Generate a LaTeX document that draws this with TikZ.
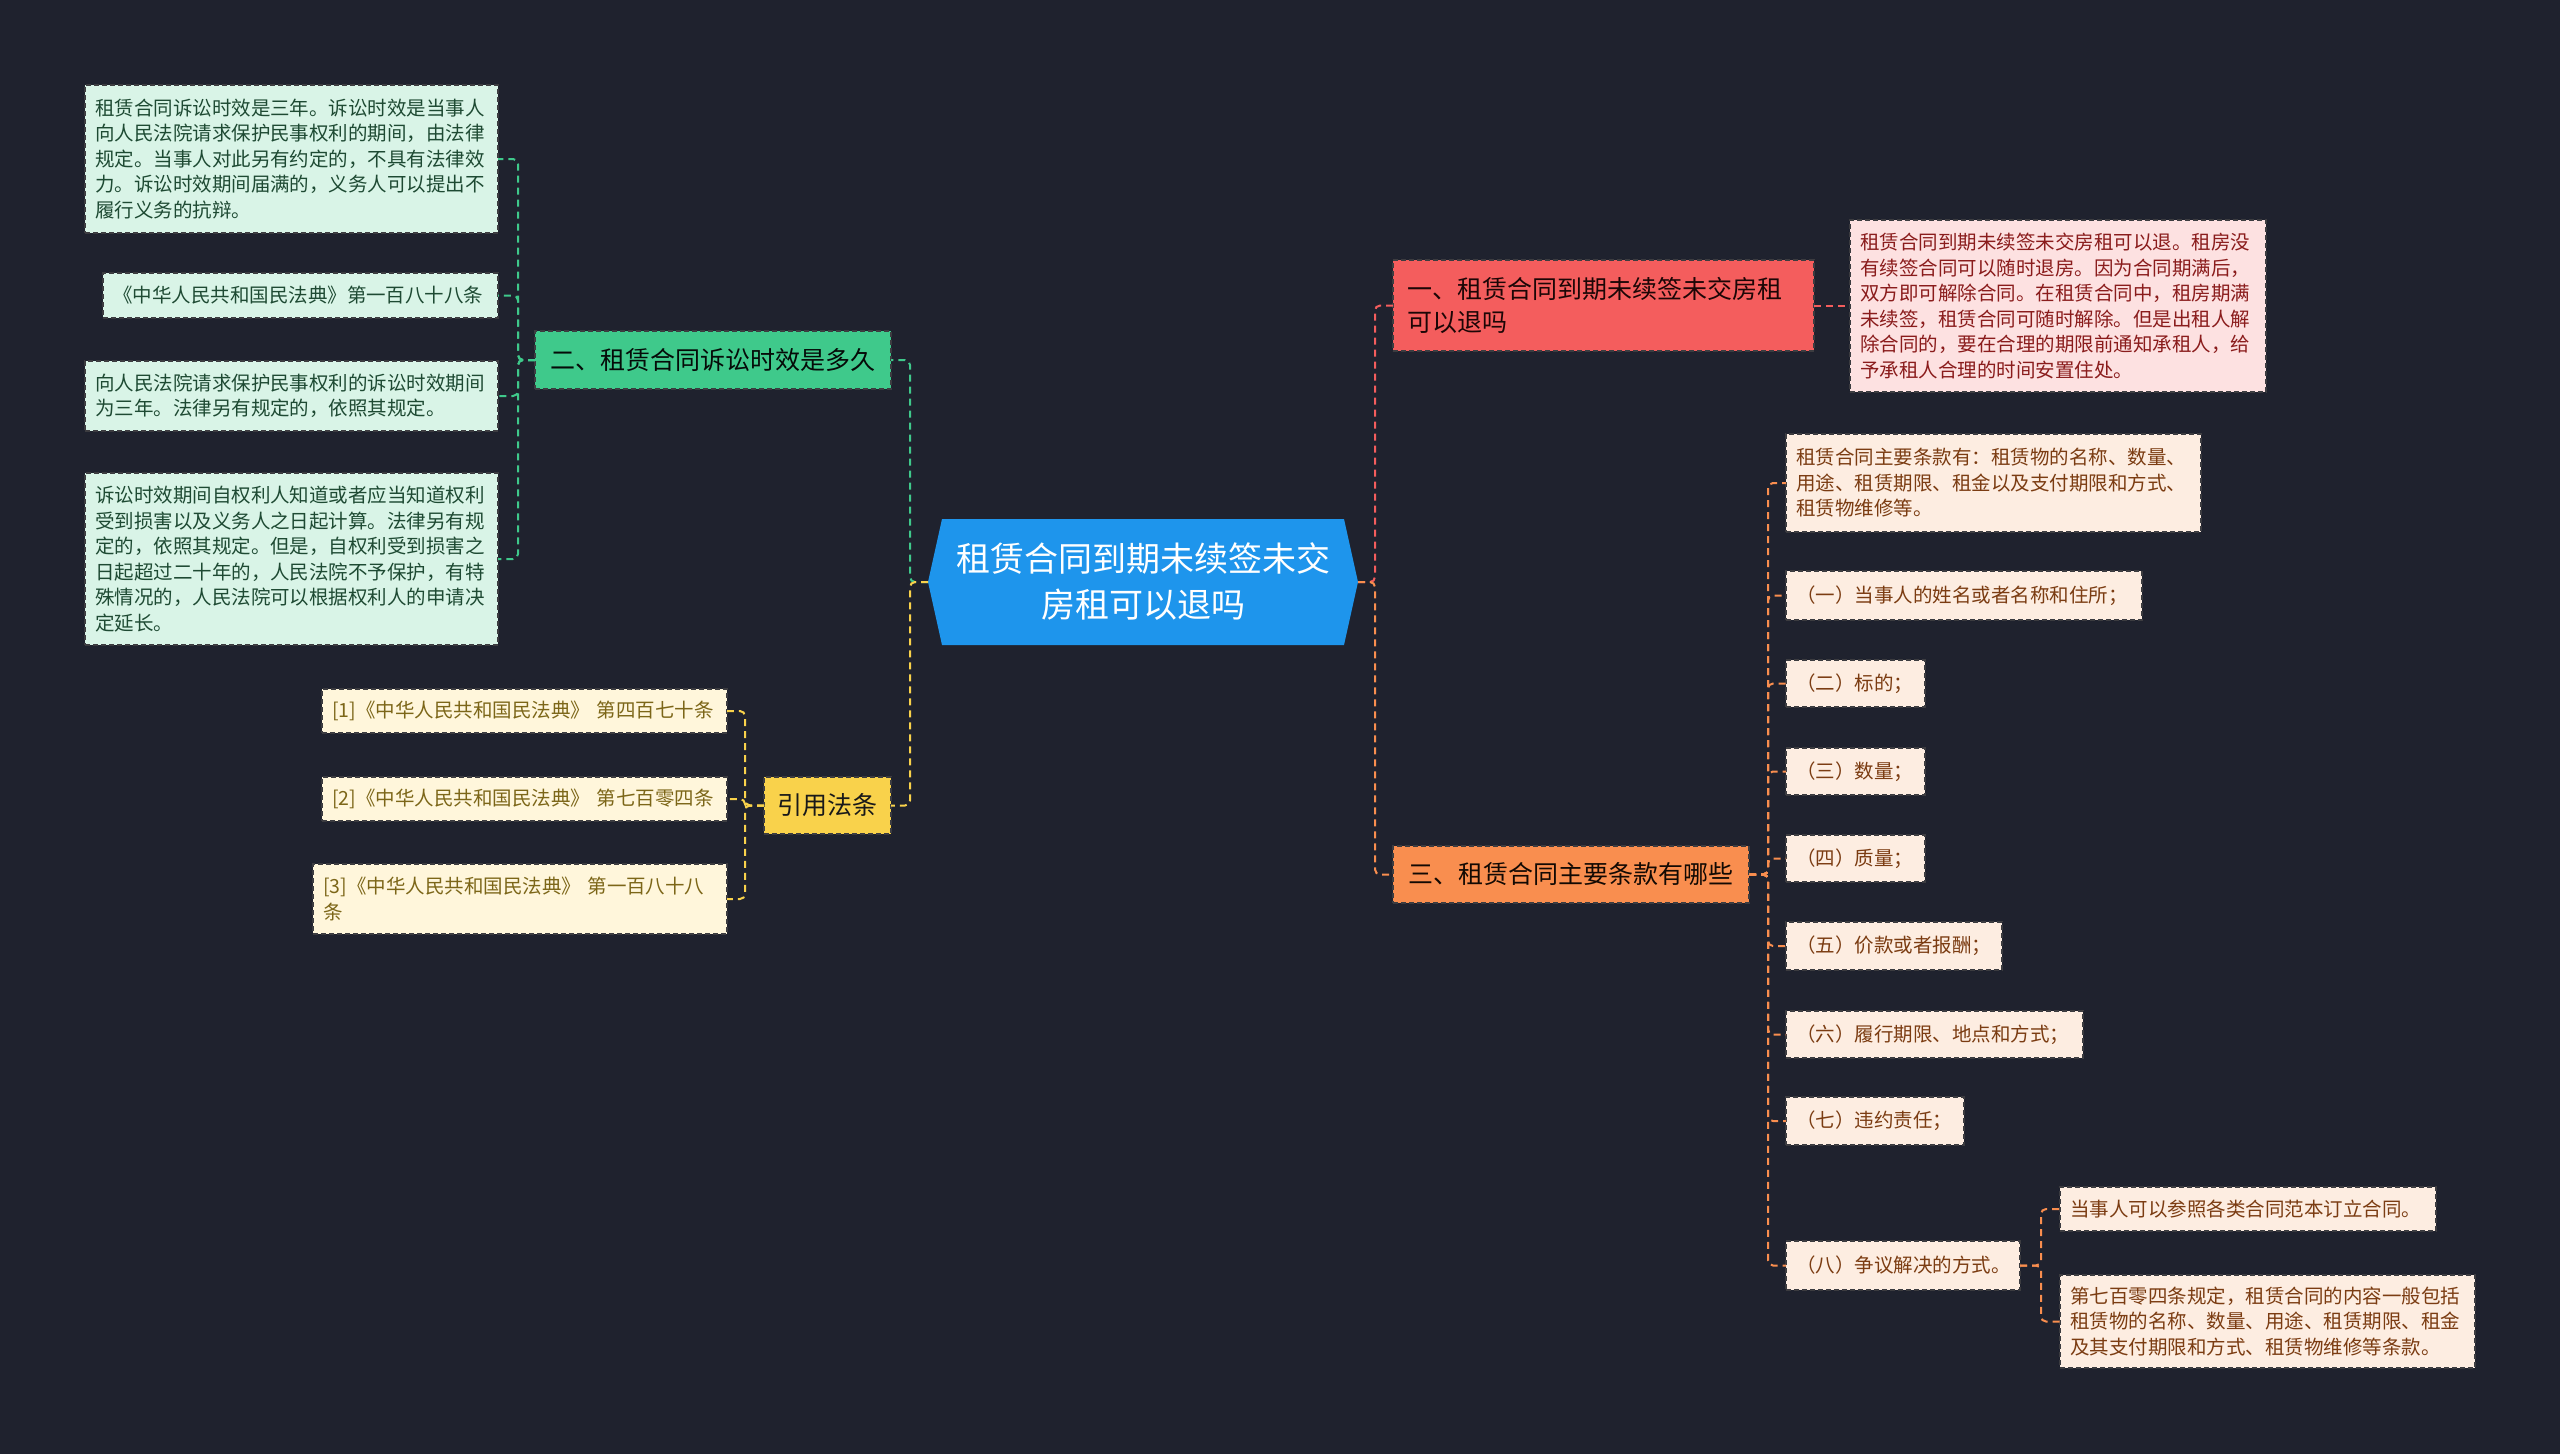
\documentclass[tikz,border=0pt]{standalone}
\usepackage{fontspec}
\newfontfamily\cjk{Noto Sans CJK SC}
\usetikzlibrary{calc,backgrounds}
\definecolor{cBg}{HTML}{1F222E}
\definecolor{cBlue}{HTML}{1E95EC}
\definecolor{cGreen}{HTML}{3FC98B}
\definecolor{cGleaf}{HTML}{D9F4E7}
\definecolor{cGtext}{HTML}{1E4A33}
\definecolor{cYellow}{HTML}{F9D24B}
\definecolor{cYleaf}{HTML}{FFF6DB}
\definecolor{cYtext}{HTML}{7C6618}
\definecolor{cRed}{HTML}{F45D5D}
\definecolor{cRleaf}{HTML}{FDE1E1}
\definecolor{cRtext}{HTML}{8A1C1C}
\definecolor{cOrange}{HTML}{F98E4F}
\definecolor{cOleaf}{HTML}{FDEDE1}
\definecolor{cOtext}{HTML}{7B3C12}
\definecolor{cLine}{HTML}{3C3C40}
\begin{document}
\begin{tikzpicture}[x=1pt,y=-1pt,
  box/.style={anchor=north west, inner xsep=10pt, inner ysep=0pt, outer sep=0pt,
    font=\cjk\fontsize{19.5}{25.5}\selectfont, align=left,
    draw=cLine, dash pattern=on 5pt off 3pt, line width=1.2pt},
  gleafbox/.style={box, fill=cGleaf, text=cGtext},
  yleafbox/.style={box, fill=cYleaf, text=cYtext},
  rleafbox/.style={box, fill=cRleaf, text=cRtext},
  oleafbox/.style={box, fill=cOleaf, text=cOtext},
  branch/.style={box, inner xsep=14pt, font=\cjk\fontsize{25}{33}\selectfont},
  conn/.style={line width=2pt, dash pattern=on 7pt off 5pt, rounded corners=5pt},
  gconn/.style={conn, draw=cGreen},
  yconn/.style={conn, draw=cYellow},
  rconn/.style={conn, draw=cRed},
  oconn/.style={conn, draw=cOrange}]
\useasboundingbox (0,0) rectangle (2560,1454);

% central node
\node[anchor=north west, minimum width=402pt, minimum height=126pt, inner sep=0pt, outer sep=0pt,
  align=center, text=white, font=\cjk\fontsize{34}{46}\selectfont] (c) at (942,519)
  {租赁合同到期未续签未交\\房租可以退吗};
\coordinate (cL) at ($(c.west)+(-14,0)$);
\coordinate (cR) at ($(c.east)+(14,0)$);
\begin{scope}[on background layer]
  \fill[cBg] (0,0) rectangle (2560,1454);
  \fill[cBlue] (c.north west) -- (c.north east) -- (cR) -- (c.south east) -- (c.south west) -- (cL) -- cycle;
\end{scope}

% bus coordinates
\coordinate (lbus) at (910,0);
\coordinate (rbus) at (1375,0);
\coordinate (gbus) at (518,0);
\coordinate (ybus) at (745,0);
\coordinate (obus) at (1768,0);
\coordinate (sbus) at (2041,0);

% green branch
\node[branch, fill=cGreen, text=black!85!cGtext, minimum width=356pt, minimum height=58pt, align=center] (g) at (535,331) {二、租赁合同诉讼时效是多久};
\node[gleafbox, text width=393pt, minimum height=148pt] (g1) at (85,85)
  {租赁合同诉讼时效是三年。诉讼时效是当事人\\向人民法院请求保护民事权利的期间，由法律\\规定。当事人对此另有约定的，不具有法律效\\力。诉讼时效期间届满的，义务人可以提出不\\履行义务的抗辩。};
\node[gleafbox, text width=375pt, minimum height=45pt] (g2) at (103,273)
  {《中华人民共和国民法典》第一百八十八条};
\node[gleafbox, text width=393pt, minimum height=70pt] (g3) at (85,361)
  {向人民法院请求保护民事权利的诉讼时效期间\\为三年。法律另有规定的，依照其规定。};
\node[gleafbox, text width=393pt, minimum height=172pt] (g4) at (85,473)
  {诉讼时效期间自权利人知道或者应当知道权利\\受到损害以及义务人之日起计算。法律另有规\\定的，依照其规定。但是，自权利受到损害之\\日起超过二十年的，人民法院不予保护，有特\\殊情况的，人民法院可以根据权利人的申请决\\定延长。};

% yellow branch
\node[branch, fill=cYellow, text=black!90, minimum width=127pt, minimum height=57pt, inner xsep=10pt, align=center] (y) at (764,777) {引用法条};
\node[yleafbox, text width=385pt, minimum height=44pt] (y1) at (322,689)
  {[1]《中华人民共和国民法典》 第四百七十条};
\node[yleafbox, text width=385pt, minimum height=44pt] (y2) at (322,777)
  {[2]《中华人民共和国民法典》 第七百零四条};
\node[yleafbox, text width=394pt, minimum height=70pt] (y3) at (313,864)
  {[3]《中华人民共和国民法典》 第一百八十八\\条};

% red branch
\node[branch, fill=cRed, text=black!80!cRtext, text width=393pt, minimum height=91pt] (r) at (1393,260)
  {一、租赁合同到期未续签未交房租\\可以退吗};
\node[rleafbox, text width=396pt, minimum height=172pt] (r1) at (1850,220)
  {租赁合同到期未续签未交房租可以退。租房没\\有续签合同可以随时退房。因为合同期满后，\\双方即可解除合同。在租赁合同中，租房期满\\未续签，租赁合同可随时解除。但是出租人解\\除合同的，要在合理的期限前通知承租人，给\\予承租人合理的时间安置住处。};

% orange branch
\node[branch, fill=cOrange, text=black!85!cOtext, minimum width=356pt, minimum height=57pt, align=center] (o) at (1393,846) {三、租赁合同主要条款有哪些};
\node[oleafbox, text width=395pt, minimum height=98pt] (o0) at (1786,434)
  {租赁合同主要条款有：租赁物的名称、数量、\\用途、租赁期限、租金以及支付期限和方式、\\租赁物维修等。};
\node[oleafbox, text width=336pt, minimum height=49pt] (o1) at (1786,571) {（一）当事人的姓名或者名称和住所；};
\node[oleafbox, text width=119pt, minimum height=47pt] (o2) at (1786,660) {（二）标的；};
\node[oleafbox, text width=119pt, minimum height=47pt] (o3) at (1786,748) {（三）数量；};
\node[oleafbox, text width=119pt, minimum height=47pt] (o4) at (1786,835) {（四）质量；};
\node[oleafbox, text width=196pt, minimum height=48pt] (o5) at (1786,922) {（五）价款或者报酬；};
\node[oleafbox, text width=277pt, minimum height=47pt] (o6) at (1786,1011) {（六）履行期限、地点和方式；};
\node[oleafbox, text width=158pt, minimum height=48pt] (o7) at (1786,1097) {（七）违约责任；};
\node[oleafbox, text width=214pt, minimum height=49pt] (o8) at (1786,1241) {（八）争议解决的方式。};
\node[oleafbox, text width=356pt, minimum height=44pt] (o8a) at (2060,1187) {当事人可以参照各类合同范本订立合同。};
\node[oleafbox, text width=395pt, minimum height=93pt] (o8b) at (2060,1275)
  {第七百零四条规定，租赁合同的内容一般包括\\租赁物的名称、数量、用途、租赁期限、租金\\及其支付期限和方式、租赁物维修等条款。};

% connectors: center to branches
\draw[gconn] (cL) -- (cL -| lbus) |- (g.east);
\draw[yconn] (cL) -- (cL -| lbus) |- (y.east);
\draw[rconn] (cR) -- (cR -| rbus) |- (r.west);
\draw[oconn] (cR) -- (cR -| rbus) |- (o.west);

% green leaves
\foreach \n in {g1,g2,g3,g4}
  \draw[gconn] (g.west) -- (g.west -| gbus) |- (\n.east);
% yellow leaves
\foreach \n in {y1,y2,y3}
  \draw[yconn] (y.west) -- (y.west -| ybus) |- (\n.east);
% red leaf
\draw[rconn] (r.east) -- (r.east -| r1.west);
% orange leaves
\foreach \n in {o0,o1,o2,o3,o4,o5,o6,o7,o8}
  \draw[oconn] (o.east) -- (o.east -| obus) |- (\n.west);
\foreach \n in {o8a,o8b}
  \draw[oconn] (o8.east) -- (o8.east -| sbus) |- (\n.west);
\end{tikzpicture}
\end{document}
